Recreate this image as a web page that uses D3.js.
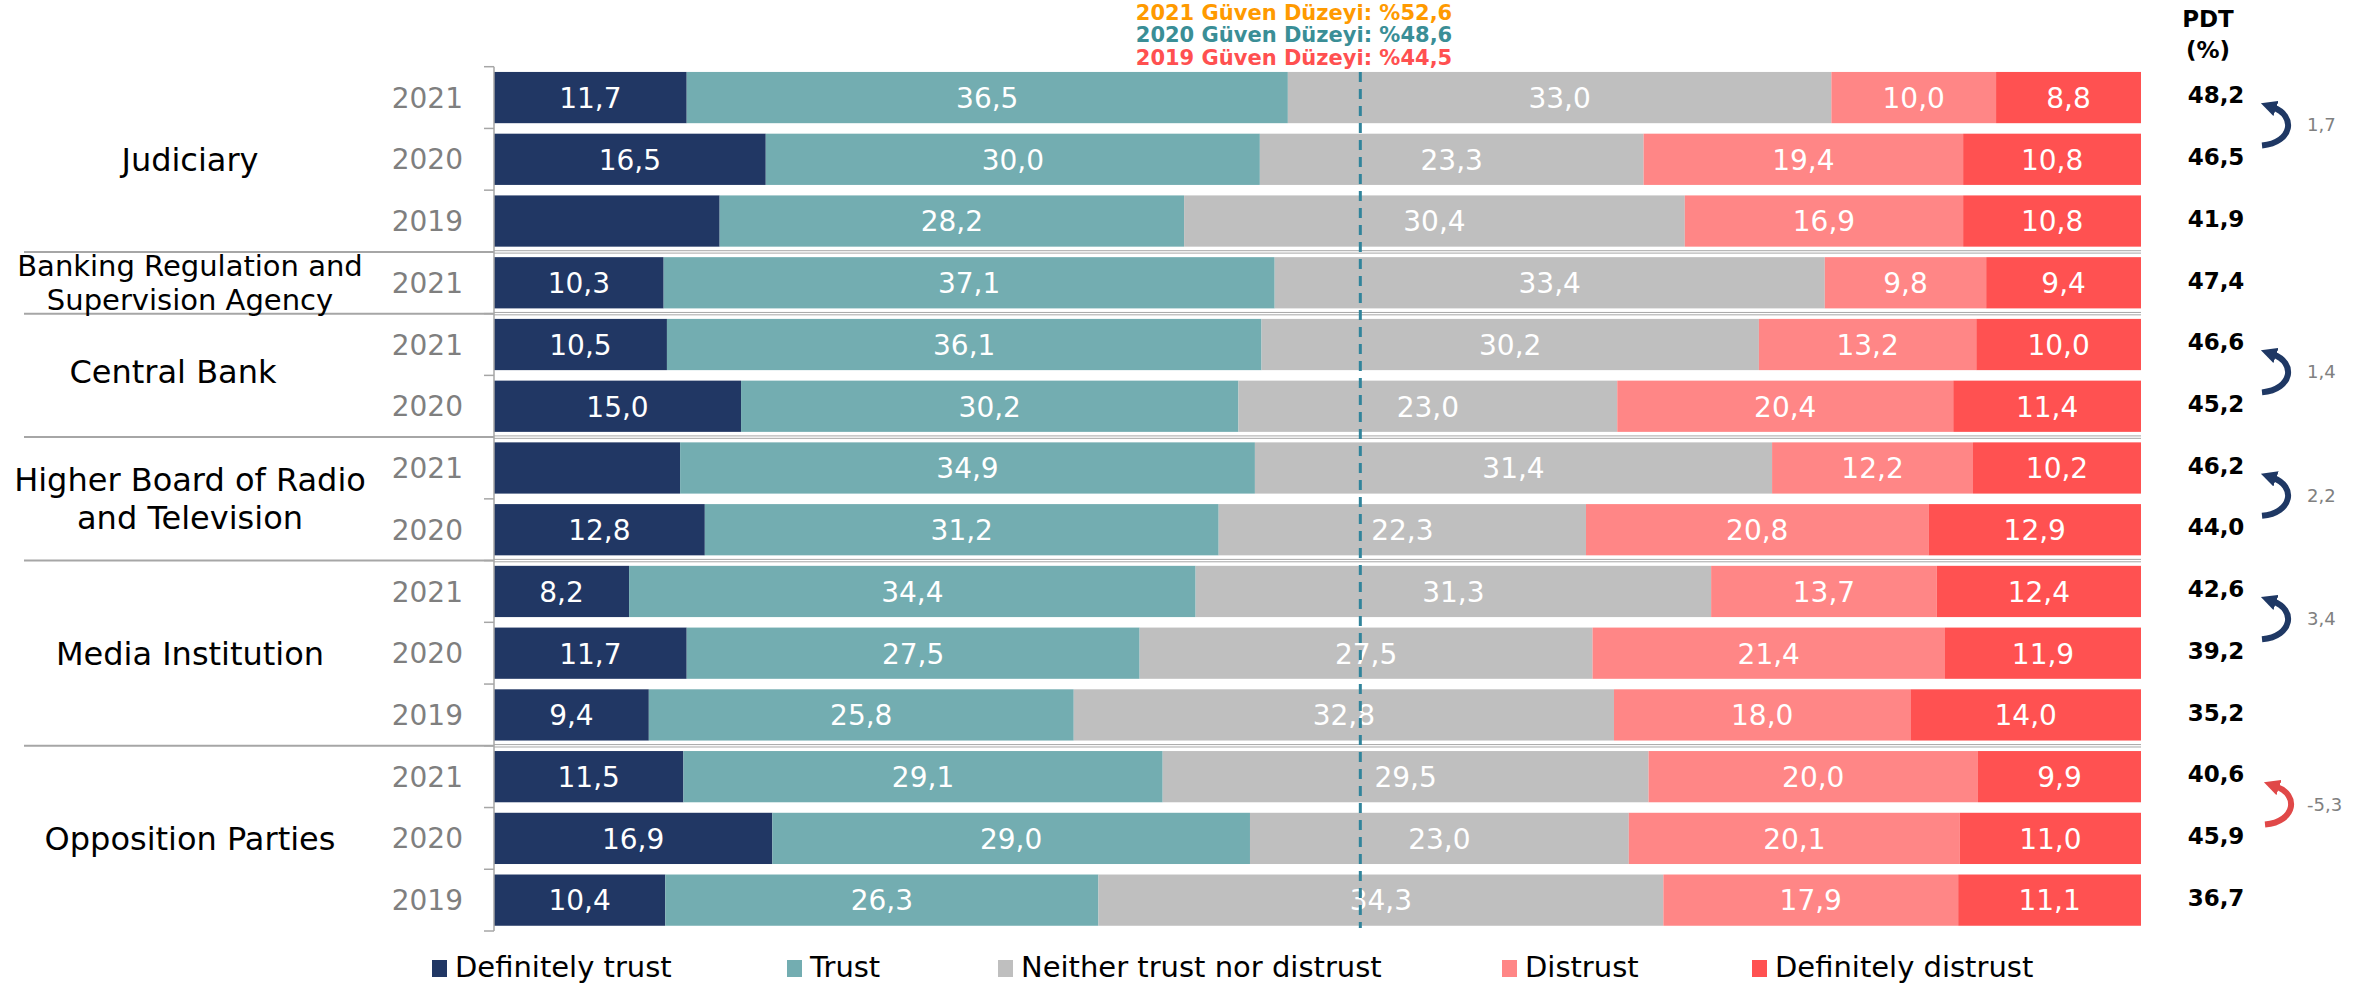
<!DOCTYPE html>
<html>
<head>
<meta charset="utf-8">
<script src="https://cdn.jsdelivr.net/npm/d3@7"></script>
<style>
  body { margin: 0; background: #fff; }
  text { font-family: "DejaVu Sans", Verdana, sans-serif; }
</style>
</head>
<body>
<svg id="chart" width="2374" height="983"></svg>
<script>
// rows, top to bottom
var years = ["2021", "2020", "2019", "2021", "2021", "2020", "2021", "2020", "2021", "2020", "2019", "2021", "2020", "2019"];
var groups = ["Judiciary", "Banking Regulation and|Supervision Agency", "Central Bank", "Higher Board of Radio|and Television", "Media Institution", "Opposition Parties"];
var groupSizes = [3, 1, 2, 2, 3, 3];

var categories = ["Definitely trust", "Trust", "Neither trust nor distrust", "Distrust", "Definitely distrust"];
var definitelyTrust = [11.7, 16.5, 13.7, 10.3, 10.5, 15.0, 11.3, 12.8, 8.2, 11.7, 9.4, 11.5, 16.9, 10.4];
var trust = [36.5, 30.0, 28.2, 37.1, 36.1, 30.2, 34.9, 31.2, 34.4, 27.5, 25.8, 29.1, 29.0, 26.3];
var neither = [33.0, 23.3, 30.4, 33.4, 30.2, 23.0, 31.4, 22.3, 31.3, 27.5, 32.8, 29.5, 23.0, 34.3];
var distrust = [10.0, 19.4, 16.9, 9.8, 13.2, 20.4, 12.2, 20.8, 13.7, 21.4, 18.0, 20.0, 20.1, 17.9];
var definitelyDistrust = [8.8, 10.8, 10.8, 9.4, 10.0, 11.4, 10.2, 12.9, 12.4, 11.9, 14.0, 9.9, 11.0, 11.1];
// segments whose value is not printed in the original
var hiddenLabels = ["0-2", "0-6"];

var pdt = [48.2, 46.5, 41.9, 47.4, 46.6, 45.2, 46.2, 44.0, 42.6, 39.2, 35.2, 40.6, 45.9, 36.7];
var changeRows = [0, 4, 6, 8, 11];
var changeValues = [1.7, 1.4, 2.2, 3.4, -5.3];

var trustLevelYears = ["2021", "2020", "2019"];
var trustLevels = [52.6, 48.6, 44.5];

var colors = ["#213764", "#73adb1", "#bfbfbf", "#ff8686", "#ff5151"];
var levelColors = ["#ff9a00", "#3a8e96", "#ff5050"];

var fmt = function(v) { return d3.format(".1f")(v).replace(".", ",").replace("\u2212", "-"); };

var svg = d3.select("#chart");

var x = d3.scaleLinear().domain([0, 100]).range([494, 2141]);
var y = d3.scaleBand()
  .domain(d3.range(years.length))
  .range([66.7, 931])
  .paddingInner(0.17)
  .paddingOuter(0.085);
var step = y.step();
var bw = y.bandwidth();
var gap = step - bw;

var series = [definitelyTrust, trust, neither, distrust, definitelyDistrust];
var stacked = d3.stack().keys(d3.range(series.length)).value(function(d, k) { return series[k][d]; })(d3.range(years.length));

// bars
var layer = svg.append("g").selectAll("g")
  .data(stacked)
  .enter().append("g")
  .attr("fill", function(d, i) { return colors[i]; });

layer.selectAll("rect")
  .data(function(d) { return d; })
  .enter().append("rect")
  .attr("x", function(d) { return x(d[0]); })
  .attr("y", function(d) { return y(d.data); })
  .attr("width", function(d) { return x(d[1]) - x(d[0]); })
  .attr("height", bw);

// labels in the bars
layer.selectAll("text")
  .data(function(d) { return d.map(function(p) { return {p: p, k: d.key}; }); })
  .enter().append("text")
  .filter(function(d) { return hiddenLabels.indexOf(d.k + "-" + d.p.data) < 0; })
  .attr("x", function(d) { return (x(d.p[0]) + x(d.p[1])) / 2; })
  .attr("y", function(d) { return y(d.p.data) + bw / 2; })
  .attr("dy", "0.37em")
  .attr("text-anchor", "middle")
  .style("font-size", "28px")
  .style("fill", "#fff")
  .text(function(d) { return fmt(d.p[1] - d.p[0]); });

// left axis with ticks between rows
var axisG = svg.append("g").attr("stroke", "#a6a6a6").attr("stroke-width", 1.5);
axisG.append("line")
  .attr("x1", x(0)).attr("x2", x(0))
  .attr("y1", y.range()[0]).attr("y2", y.range()[1]);
axisG.selectAll(".tick")
  .data(d3.range(years.length + 1))
  .enter().append("line")
  .attr("x1", x(0) - 10).attr("x2", x(0))
  .attr("y1", function(i) { return i < years.length ? y(i) - gap / 2 : y.range()[1]; })
  .attr("y2", function(i) { return i < years.length ? y(i) - gap / 2 : y.range()[1]; });

// year labels
svg.append("g").selectAll("text")
  .data(years)
  .enter().append("text")
  .attr("x", 463)
  .attr("y", function(d, i) { return y(i) + bw / 2; })
  .attr("dy", "0.36em")
  .attr("text-anchor", "end")
  .style("font-size", "28px")
  .style("fill", "#7f7f7f")
  .text(function(d) { return d; });

// group labels and separators
var starts = [];
groupSizes.reduce(function(acc, n) { starts.push(acc); return acc + n; }, 0);
var labelX = [190, 190, 173, 190, 190, 190];

var sepG = svg.append("g");
starts.slice(1).forEach(function(s) {
  var yy = y(s) - gap / 2;
  sepG.append("line")
    .attr("x1", 24).attr("x2", x(0))
    .attr("y1", yy).attr("y2", yy)
    .attr("stroke", "#a6a6a6").attr("stroke-width", 2);
  [-1.2, 1.2].forEach(function(o) {
    sepG.append("line")
      .attr("x1", x(0)).attr("x2", x(100))
      .attr("y1", yy + o).attr("y2", yy + o)
      .attr("stroke", "#a6a6a6").attr("stroke-width", 1);
  });
});

groups.forEach(function(g, i) {
  var lines = g.split("|");
  var top = y(starts[i]);
  var bottom = y(starts[i] + groupSizes[i] - 1) + bw;
  var mid = (top + bottom) / 2 - (i == 2 ? 4 : 0);
  var size = lines.length > 1 && groupSizes[i] == 1 ? 29 : 32;
  var lh = size * 1.18;
  var t = svg.append("text")
    .attr("text-anchor", "middle")
    .style("font-size", size + "px")
    .style("fill", "#000");
  lines.forEach(function(l, j) {
    t.append("tspan")
      .attr("x", labelX[i])
      .attr("y", mid + (j - (lines.length - 1) / 2) * lh)
      .attr("dy", "0.36em")
      .text(l);
  });
});

// trust level line (2021)
svg.append("line")
  .attr("x1", x(trustLevels[0])).attr("x2", x(trustLevels[0]))
  .attr("y1", 72).attr("y2", 928)
  .attr("stroke", "#31849b")
  .attr("stroke-width", 3)
  .attr("stroke-dasharray", "10,7");

// trust level texts
var levelY = [20, 42, 65];
svg.append("g").selectAll("text")
  .data(trustLevels)
  .enter().append("text")
  .attr("x", 1294)
  .attr("y", function(d, i) { return levelY[i]; })
  .attr("text-anchor", "middle")
  .style("font-size", "21px")
  .style("font-weight", "bold")
  .style("fill", function(d, i) { return levelColors[i]; })
  .text(function(d, i) { return trustLevelYears[i] + " Güven Düzeyi: %" + fmt(d); });

// PDT column
svg.append("text")
  .attr("x", 2208).attr("y", 27)
  .attr("text-anchor", "middle")
  .style("font-size", "23px").style("font-weight", "bold")
  .text("PDT");
svg.append("text")
  .attr("x", 2208).attr("y", 58)
  .attr("text-anchor", "middle")
  .style("font-size", "23px").style("font-weight", "bold")
  .text("(%)");

svg.append("g").selectAll("text")
  .data(pdt)
  .enter().append("text")
  .attr("x", 2216)
  .attr("y", function(d, i) { return y(i) + bw / 2; })
  .attr("dy", "0.25em")
  .attr("text-anchor", "middle")
  .style("font-size", "23px")
  .style("font-weight", "bold")
  .style("fill", "#000")
  .text(function(d) { return fmt(d); });

// change arrows
var defs = svg.append("defs");
[["navy", "#1f3864"], ["red", "#e04848"]].forEach(function(m) {
  defs.append("marker")
    .attr("id", "head-" + m[0])
    .attr("viewBox", "0 0 10 10")
    .attr("refX", 2).attr("refY", 5)
    .attr("markerWidth", 16).attr("markerHeight", 16)
    .attr("markerUnits", "userSpaceOnUse")
    .attr("orient", "auto")
    .append("path")
    .attr("d", "M0,0 L10,5 L0,10 z")
    .attr("fill", m[1]);
});

changeRows.forEach(function(r, i) {
  var ym = (y(r) + y(r + 1)) / 2 + bw / 2;
  var up = changeValues[i] >= 0;
  var dx = up ? 0 : 3;
  svg.append("path")
    .attr("d", "M" + (2262 + dx) + "," + (ym + 17) +
      " C" + (2293 + dx) + "," + (ym + 14) + " " + (2296 + dx) + "," + (ym - 13) + " " + (2273 + dx) + "," + (ym - 21))
    .attr("fill", "none")
    .attr("stroke", up ? "#1f3864" : "#e04848")
    .attr("stroke-width", 6)
    .attr("marker-end", "url(#head-" + (up ? "navy" : "red") + ")");
  svg.append("text")
    .attr("x", 2307)
    .attr("y", ym + 3)
    .style("font-size", "18px")
    .style("fill", "#808080")
    .text(fmt(changeValues[i]));
});

// legend
var legendX = [432, 787, 998, 1502, 1752];
var legend = svg.append("g").selectAll("g")
  .data(categories)
  .enter().append("g")
  .attr("transform", function(d, i) { return "translate(" + legendX[i] + ",0)"; });
legend.append("rect")
  .attr("x", 0).attr("y", 960)
  .attr("width", 15).attr("height", 17)
  .attr("fill", function(d, i) { return colors[i]; });
legend.append("text")
  .attr("x", 23).attr("y", 977)
  .style("font-size", "29px")
  .style("fill", "#000")
  .text(function(d) { return d; });
</script>
</body>
</html>
